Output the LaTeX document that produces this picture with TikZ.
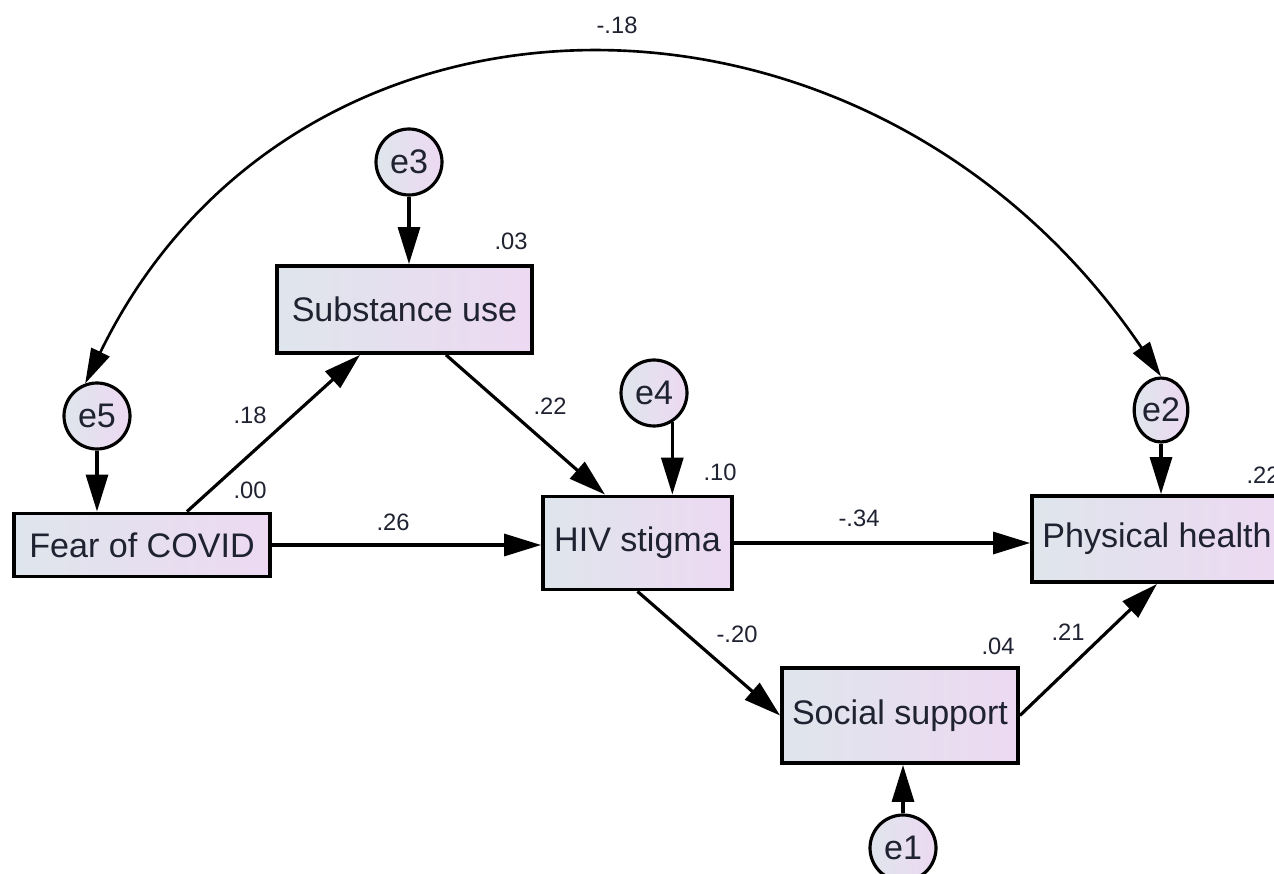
\documentclass[tikz,border=0pt]{standalone}
\usepackage{fontspec}
\setmainfont{Liberation Sans}
\usetikzlibrary{arrows.meta,shapes.geometric}
\definecolor{boxleft}{HTML}{DFE5EC}
\definecolor{boxright}{HTML}{EDD9F2}
\definecolor{inkdark}{HTML}{1F2230}
\begin{document}
\begin{tikzpicture}
[x=0.02cm,y=-0.02cm,
  boxdecorate/.style={shape=rectangle,draw,line width=2.2pt,inner sep=0pt,
    left color=boxleft,right color=boxright,text=inkdark,
    font=\fontsize{19.4}{22}\selectfont},%
  errdecorate/.style={shape=ellipse,draw,line width=1.8pt,inner sep=0pt,
    left color=boxleft,right color=boxright,text=inkdark,
    minimum width=1.32cm,minimum height=1.32cm,
    font=\fontsize{19.4}{22}\selectfont},%
  linedecorate/.style={-{Triangle[length=0.74cm,width=0.44cm]},line width=1.8pt},%
  arcdecorate/.style={{Triangle[length=0.7cm,width=0.4cm]}-{Triangle[length=0.7cm,width=0.4cm]},line width=1.5pt},%
  labeldecorate/.style={text=inkdark,font=\fontsize{13.5}{15}\selectfont}]
\useasboundingbox (0,0) rectangle (1274,874);
%%% observed variables
% boxes
\node (fear) at (142,545) [boxdecorate,minimum width=5.12cm,minimum height=1.26cm] {Fear of COVID};
\node (subst) at (404.5,309.5) [boxdecorate,minimum width=5.10cm,minimum height=1.74cm] {Substance use};
\node (hiv) at (637.5,543) [boxdecorate,minimum width=3.78cm,minimum height=1.86cm] {HIV stigma};
\node (phys) at (1157,539) [boxdecorate,minimum width=5.0cm,minimum height=1.72cm] {Physical health};
\node (social) at (900,715.5) [boxdecorate,minimum width=4.72cm,minimum height=1.90cm] {Social support};
%
%%% error terms
\node (e3) at (409,162) [errdecorate] {e3};
\node (e5) at (97,416) [errdecorate] {e5};
\node (e4) at (654,393) [errdecorate] {e4};
\node (e2) at (1161,410) [errdecorate,minimum width=1.04cm,minimum height=1.28cm] {e2};
\node (e1) at (903,848) [errdecorate] {e1};
%
%%% paths
\path
([xshift=0.9cm]fear.north) edge[linedecorate] node {} ([xshift=-0.89cm]subst.south)
([xshift=0.83cm]subst.south) edge[linedecorate] node {} ([xshift=-0.65cm]hiv.north)
(fear.east) edge[linedecorate] node {} (fear.east -| hiv.west)
(hiv.east) edge[linedecorate] node {} (hiv.east -| phys.west)
(hiv.south) edge[linedecorate] node {} (social.west)
(social.east) edge[linedecorate] node {} (phys.south)
(e3) edge[linedecorate] node {} (e3 |- subst.north)
(e5) edge[linedecorate] node {} (e5 |- fear.north)
(e4.-58) edge[linedecorate] node {} (e4.-58 |- hiv.north)
(e2) edge[linedecorate] node {} (e2 |- phys.north)
(e1) edge[linedecorate] node {} (e1 |- social.south);
% covariance
\draw[arcdecorate] (e5.110) .. controls +(210,-432) and +(-290,-428) .. (e2.north);
%
%%% estimates
\node [labeldecorate] at (617,25) {-.18};
\node [labeldecorate] at (511,241) {.03};
\node [labeldecorate] at (250,415) {.18};
\node [labeldecorate] at (250,490) {.00};
\node [labeldecorate] at (550,406) {.22};
\node [labeldecorate] at (720,472) {.10};
\node [labeldecorate] at (393,522) {.26};
\node [labeldecorate] at (859,518) {-.34};
\node [labeldecorate] at (1263,475) {.22};
\node [labeldecorate] at (737,634) {-.20};
\node [labeldecorate] at (998,646) {.04};
\node [labeldecorate] at (1068,632) {.21};
\end{tikzpicture}
\end{document}
